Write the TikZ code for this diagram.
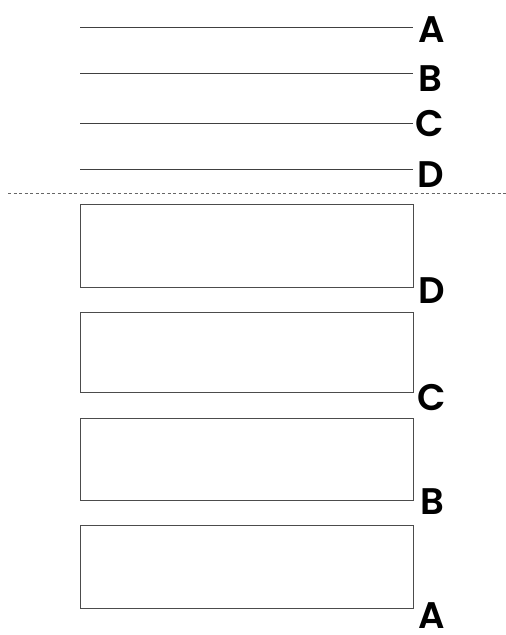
\documentclass[tikz,border=0pt]{standalone}
\usepackage{fontspec}
\newfontfamily\lblfont{Poppins SemiBold}
\begin{document}
\begin{tikzpicture}[x=1pt,y=-1pt,
  lbl/.style={font=\lblfont\fontsize{37}{37}\selectfont, inner sep=0pt, text depth=0pt, anchor=base},
  wire/.style={draw=black!75, line width=0.8pt},
  slot/.style={draw=black!70, line width=0.9pt}]
\useasboundingbox (0,0) rectangle (506,635);
% top lines
\foreach \n/\y/\lx/\ly in {A/27/432/42, B/73/430/91, C/123/430/136, D/169/431/187}{
  \coordinate (s\n) at (80,\y);
  \coordinate (e\n) at (413,\y);
  \draw[wire] (s\n) -- (e\n);
  \node[lbl] (t\n) at (\lx,\ly) {\n};
}
% dashed separator
\coordinate (d1) at (8,193);
\coordinate (d2) at (506,193);
\draw[black!60, line width=0.8pt, dash pattern=on 3pt off 2.5pt] (d1) -- (d2);
% boxes
\foreach \i/\t/\b/\n/\ly in {1/204/287/D/303, 2/312/392/C/410, 3/418/500/B/514, 4/525/608/A/628}{
  \draw[slot] (80,\t) rectangle (413,\b);
  \node[lbl] (b\i) at (432,\ly) {\n};
}
\end{tikzpicture}
\end{document}
